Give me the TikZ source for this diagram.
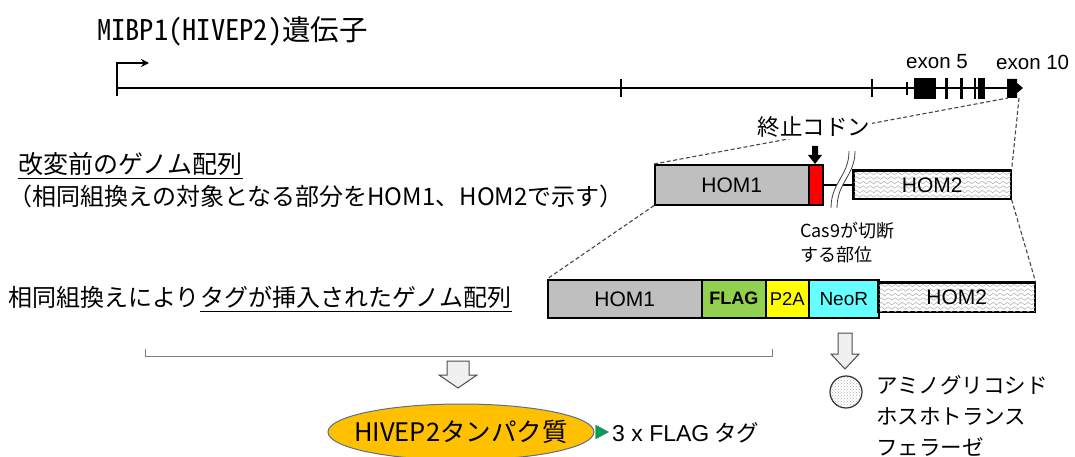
\documentclass[tikz,border=0pt]{standalone}
\usepackage{fontspec}
\setmainfont{Liberation Sans}
\newfontfamily\jp{Noto Sans CJK JP}
\newfontfamily\jph[CharacterWidth=Half]{Noto Sans CJK JP}
\usetikzlibrary{patterns,decorations.pathmorphing,shapes.geometric,arrows.meta}
\newcommand\fsz[1]{\fontsize{#1}{#1}\selectfont}
\definecolor{hgray}{HTML}{BFBFBF}
\definecolor{flaggreen}{HTML}{92D050}
\definecolor{p2ayellow}{HTML}{FFFF00}
\definecolor{neocyan}{HTML}{66FFFF}
\definecolor{protorange}{HTML}{FFC000}
\definecolor{protedge}{HTML}{5A6F8C}
\definecolor{tagtri}{HTML}{00A050}
\newcommand\wavebox[1]{%
  \begin{scope}
    \clip (#1.south west) rectangle (#1.north east);
    \foreach \k in {0,...,8}
      \draw[wave] ([xshift=-6pt,yshift={-\k*4.5pt+1pt}]#1.north west) -- ([xshift=8pt,yshift={-\k*4.5pt+1pt}]#1.north east);
  \end{scope}}
\tikzset{
  seg/.style={draw=black, line width=1.6pt, inner sep=0pt, anchor=north west, font=\fsz{20}},
  lbl/.style={inner sep=0pt},
  dashl/.style={draw=gray!55!black, line width=1.1pt, dash pattern=on 4pt off 2.5pt},
  wave/.style={draw=gray!60, line width=0.55pt, decorate, decoration={snake, amplitude=1.3pt, segment length=7pt}},
  harrow/.style={draw=gray!60!black, line width=1pt, fill=gray!12, line join=miter},
  brk/.style={draw=gray!50!black, line width=0.8pt},
}
\begin{document}
\begin{tikzpicture}[x=1pt,y=-1pt]
\useasboundingbox (0,0) rectangle (1075,457);

% ---------------- gene track ----------------
\node[lbl, anchor=west, font=\jph\fsz{28.5}] (title) at (97,31) {MIBP1(HIVEP2)遺伝子};
\draw[line width=2.6pt] (117,88) -- (1010,88);
\draw[line width=2.8pt] (117,80) -- (117,96);
\draw[line width=1.5pt, -{Stealth[length=8pt,width=8pt]}] (117,80) -- (117,63) -- (149,63);
\foreach \x in {621,872} \draw[line width=2.8pt] (\x,79) -- (\x,97);
\draw[line width=1.8pt] (907,82) -- (907,95);
\fill (914,78) rectangle (936,99);
\foreach \x in {946,961} \draw[line width=3pt] (\x,78) -- (\x,99);
\draw[line width=1.4pt] (975,78) -- (975,99);
\fill (978,78) rectangle (985,99);
\fill (1007,79) -- (1017,79) -- (1017,83) -- (1023,88) -- (1017,93) -- (1017,98) -- (1007,98) -- cycle;
\coordinate (e10bl) at (1008,98);
\coordinate (e10br) at (1019,98);
\node[lbl, font=\fsz{20.5}] (ex5) at (937,62) {exon 5};
\node[lbl, anchor=west, font=\fsz{20.5}] (ex10) at (996,62) {exon 10};

% ---------------- left texts ----------------
\node[lbl, anchor=west, font=\jp\fsz{25}] (t1) at (18,164) {改変前のゲノム配列};
\draw[line width=1pt] ([yshift=-5pt]t1.base west) -- ([yshift=-5pt]t1.base east);
\node[lbl, anchor=west, font=\jp\fsz{24}] (t2) at (8,196) {（相同組換えの対象となる部分をHOM1、HOM2で示す）};
\node[lbl, anchor=west, font=\jp\fsz{24}] (t3a) at (8,297) {相同組換えにより};
\node[lbl, anchor=west, font=\jp\fsz{24}] (t3b) at (t3a.east) {タグが挿入されたゲノム配列};
\draw[line width=1pt] ([yshift=-5pt]t3b.base west) -- ([yshift=-5pt]t3b.base east);

% ---------------- original sequence ----------------
\node[seg, fill=hgray, minimum width=154pt, minimum height=40pt] (h1t) at (654,164) {};
\node[lbl, font=\fsz{21}] at (h1t) {HOM1};
\node[seg, fill=red, minimum width=14pt, minimum height=40pt] (stop) at (808,164) {};
\node[seg, fill=white, minimum width=157pt, minimum height=28pt] (h2t) at (853,170) {};
\draw[line width=1.6pt] (stop.east |- h2t.west) -- (h2t.west);
\wavebox{h2t}
\draw[line width=1.6pt] (h2t.south west) rectangle (h2t.north east);
\node[lbl, font=\fsz{21}] at (h2t) {HOM2};
% break marks
\fill[white] (849,151) .. controls (849,176) and (831,182) .. (831,208) -- (837,208) .. controls (837,182) and (855,176) .. (855,151) -- cycle;
\draw[brk] (849,151) .. controls (849,176) and (831,182) .. (831,208);
\draw[brk] (855,151) .. controls (855,176) and (837,182) .. (837,208);
% stop codon arrow
\fill (812,146) -- (818,146) -- (818,155) -- (822,155) -- (815,164) -- (808,155) -- (812,155) -- cycle;
% dashed zoom lines
\draw[dashl] (h1t.north west) -- (e10bl);
\draw[dashl] (e10br) -- (h2t.north east);
\node[fill=white, inner sep=2pt, font=\jp\fsz{22.5}] (stoplbl) at (814,127) {終止コドン};
\node[lbl, align=left, anchor=west, font=\jp\fontsize{18}{24}\selectfont] (cas) at (800,243) {Cas9が切断\\する部位};

% ---------------- edited sequence ----------------
\node[seg, fill=hgray, minimum width=154pt, minimum height=38pt] (h1b) at (547,279) {};
\node[lbl, font=\fsz{21}] at (h1b) {HOM1};
\node[seg, fill=flaggreen, minimum width=64pt, minimum height=38pt, font=\bfseries\fsz{18}] (flag) at (701,279) {FLAG};
\node[seg, fill=p2ayellow, minimum width=43pt, minimum height=38pt, font=\fsz{18.5}] (p2a) at (765,279) {P2A};
\node[seg, fill=neocyan, minimum width=70pt, minimum height=38pt, font=\fsz{19}] (neo) at (808,279) {NeoR};
\node[seg, fill=white, minimum width=156pt, minimum height=29pt] (h2b) at (878,282) {};
\wavebox{h2b}
\draw[line width=1.6pt] (h2b.south west) rectangle (h2b.north east);
\node[lbl, font=\fsz{21}] at (h2b) {HOM2};
\draw[dashl] (h1t.south west) -- (h1b.north west);
\draw[dashl] (h2t.south east) -- (h2b.north east);

% ---------------- bracket and products ----------------
\draw[gray, line width=1pt] (145,349) -- (145,356) -- (772,356) -- (772,349);
\coordinate (a1) at (458,361);
\draw[harrow] (a1) ++(-11,0) -- ++(0,14) -- ++(-8,0) -- ++(19,13) -- ++(19,-13) -- ++(-8,0) -- ++(0,-14) -- cycle;
\coordinate (a2) at (845,333);
\draw[harrow] (a2) ++(-7,0) -- ++(0,21) -- ++(-7,0) -- ++(14,15) -- ++(14,-15) -- ++(-7,0) -- ++(0,-21) -- cycle;

\node[ellipse, draw=protedge, line width=1pt, fill=protorange, minimum width=266pt, minimum height=56pt, inner sep=0pt] (prot) at (461,432) {};
\node[lbl, font=\jp\fsz{25.5}] at (prot) {HIVEP2タンパク質};
\fill[tagtri, draw=protedge, line width=0.4pt] ([xshift=1pt,yshift=-7pt]prot.east) -- ([xshift=14pt]prot.east) -- ([xshift=1pt,yshift=7pt]prot.east) -- cycle;
\node[lbl, anchor=west] (tag) at (612,433) {{\fsz{23}3 x FLAG}\hspace{5pt}{\jp\fsz{22.5}タグ}};

\node[circle, draw=gray!40!black, line width=1.2pt, minimum size=32pt, inner sep=0pt, pattern=crosshatch dots, pattern color=gray!60] (enz) at (846,392) {};
\node[lbl, align=left, anchor=west, font=\jp\fontsize{21.5}{31}\selectfont] (enzlbl) at (876,416) {アミノグリコシド\\ホスホトランス\\フェラーゼ};
\end{tikzpicture}
\end{document}
